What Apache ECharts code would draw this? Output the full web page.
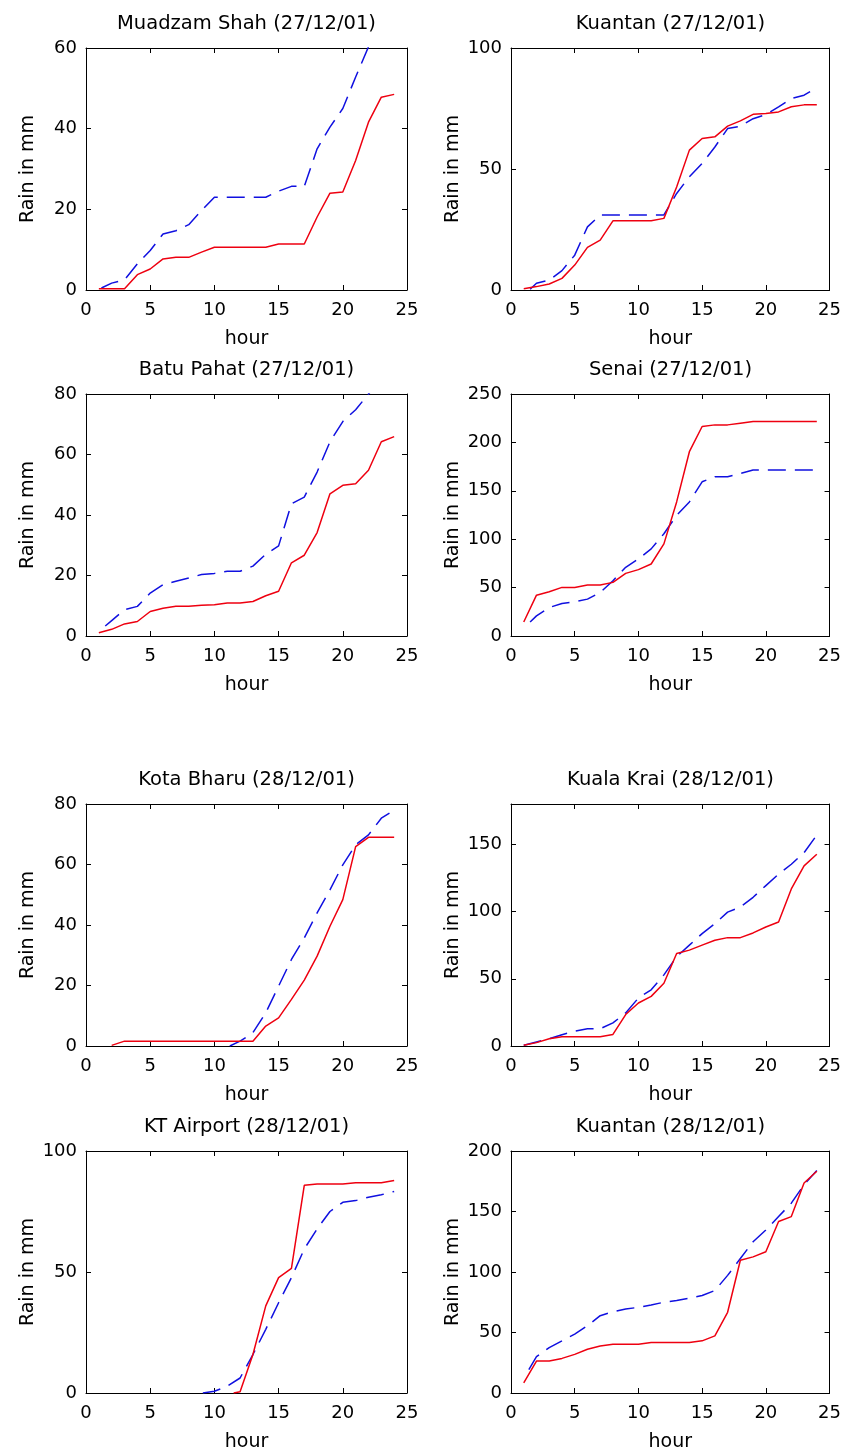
<!DOCTYPE html>
<html><head><meta charset="utf-8">
<script src="https://cdn.jsdelivr.net/npm/echarts@6/dist/echarts.min.js"></script>
<style>html,body{margin:0;padding:0;background:#fff}#c{width:844px;height:1454px}</style>
</head><body><div id="c"></div>
<script>
const hours = [1,2,3,4,5,6,7,8,9,10,11,12,13,14,15,16,17,18,19,20,21,22,23,24];
const titles = ['Muadzam Shah (27/12/01)','Kuantan (27/12/01)','Batu Pahat (27/12/01)','Senai (27/12/01)',
                'Kota Bharu (28/12/01)','Kuala Krai (28/12/01)','KT Airport (28/12/01)','Kuantan (28/12/01)'];
const yMax = [60,100,80,250,80,180,100,200];
const yInterval = [20,50,20,50,20,50,50,50];
const xMax = 25, xInterval = 5;
const xName = 'hour', yName = 'Rain in mm';
// hour of the first drawn point of each curve
const redStartHour  = [1,1,1,1,2,1,11.5,1];
const blueStartHour = [1.2,1.5,1.5,1.5,11.2,1,9.1,1.4];

// observed (red, solid)
const redMuadzam = [0.3,0.3,0.3,3.8,5.2,7.7,8.1,8.1,9.4,10.6,10.6,10.6,10.6,10.6,11.4,11.4,11.4,18.1,24.0,24.3,32.1,41.6,47.8,48.5];
const redKuantan1 = [0.5,1.4,2.5,4.8,10.3,17.6,20.6,28.6,28.6,28.6,28.6,29.6,42.6,57.8,62.6,63.3,67.7,69.9,72.6,72.9,73.6,75.7,76.5,76.5];
const redBatuPahat = [1.1,2.2,4.0,4.8,8.1,9.2,9.8,9.8,10.2,10.3,10.9,10.9,11.4,13.3,14.8,24.2,26.7,34.2,47.0,49.8,50.3,54.8,64.2,65.9];
const redSenai = [14.5,42.2,45.7,50.2,50.2,52.6,52.6,55.4,64.7,68.6,74.4,95.2,138.5,190.4,216.4,218.1,218.1,219.9,221.6,221.6,221.6,221.6,221.6,221.6];
const redKotaBharu = [null,0.2,1.6,1.6,1.6,1.6,1.6,1.6,1.6,1.6,1.6,1.6,1.6,6.6,9.3,15.4,21.8,29.7,39.6,48.4,65.9,69.0,69.0,69.0];
const redKualaKrai = [0.5,2.5,5.4,6.9,6.9,6.9,6.9,8.6,23.4,32.0,36.9,46.7,68.8,71.3,75.0,78.7,80.6,80.6,84.1,88.5,92.2,116.8,134.0,142.6];
const redKTAirport = [null,null,null,null,null,null,null,null,null,null,0,0.5,15.9,36.0,47.7,51.5,85.8,86.4,86.4,86.4,86.9,86.9,86.9,87.8];
const redKuantan2 = [8.3,26.4,26.4,28.6,31.9,36.1,38.9,40.3,40.3,40.3,41.7,41.7,41.7,41.7,43.1,47.2,66.7,109.7,112.5,116.7,141.7,145.8,173.6,183.3];

// estimated (blue, dashed)
const blueMuadzam = [0.5,1.7,2.5,6.5,9.8,13.9,14.7,16.2,19.7,23.0,23.0,23.0,23.0,23.0,24.5,25.7,25.7,35.0,40.4,45.0,52.8,60.3,66.0,72.0];
const blueKuantan1 = [0.3,2.8,4.1,8.0,14.4,26.1,31.0,31.0,31.0,31.0,31.0,31.0,39.9,46.8,52.3,59.1,66.7,67.7,70.8,72.5,75.7,79.1,80.5,83.6];
const blueBatuPahat = [3.3,5.1,8.7,9.8,14.2,17.0,18.1,19.2,20.3,20.7,21.4,21.4,23.1,27.0,29.8,43.7,45.9,54.2,64.2,70.9,74.8,80.0,85.0,88.0];
const blueSenai = [14.5,20.8,29.4,33.6,35.3,38.1,45.0,57.1,71.0,79.6,90.0,105.6,124.7,138.5,159.3,164.5,164.5,167.9,171.4,171.4,171.4,171.4,171.4,171.4];
const blueKotaBharu = [null,null,null,null,null,null,null,null,null,null,0,1.6,4.4,11.0,19.8,28.6,35.7,44.0,51.6,59.9,66.5,69.8,75.3,78.0];
const blueKualaKrai = [0.5,3.0,5.4,8.4,11.1,12.8,12.8,17.2,24.6,35.7,41.8,52.9,66.4,75.0,83.6,91.0,99.6,103.3,110.6,119.3,127.9,135.2,143.8,156.9];
const blueKTAirport = [null,null,null,null,null,null,null,null,0,0.7,2.8,6.2,15.9,26.3,37.3,47.7,59.5,67.8,75.0,78.8,79.5,80.9,81.9,83.3];
const blueKuantan2 = [19.4,30.0,37.5,43.1,48.6,55.6,63.9,67.2,69.4,70.8,72.8,75.0,76.4,78.3,80.6,84.7,97.2,111.1,125.0,134.7,145.8,156.9,172.2,183.9];

const redSets = [redMuadzam,redKuantan1,redBatuPahat,redSenai,redKotaBharu,redKualaKrai,redKTAirport,redKuantan2];
const blueSets = [blueMuadzam,blueKuantan1,blueBatuPahat,blueSenai,blueKotaBharu,blueKualaKrai,blueKTAirport,blueKuantan2];

const FONT = 'DejaVu Sans';
const lefts = [86, 511], widths = [321, 319];
const tops = [48, 394, 804, 1151], H = 242;

function toPairs(vals, startHour) {
  const out = [];
  let first = true;
  vals.forEach((v, i) => {
    if (v == null) return;
    out.push([first ? startHour : hours[i], v]);
    first = false;
  });
  return out;
}

const grid = [], xAxis = [], yAxis = [], series = [], graphic = [];
for (let p = 0; p < 8; p++) {
  const col = p % 2, row = Math.floor(p / 2);
  grid.push({left: lefts[col], top: tops[row], width: widths[col], height: H});
  const tickStyle = {show: true, inside: true, length: 5, lineStyle: {color: '#000', width: 1}};
  const lineStyle = {show: true, onZero: false, lineStyle: {color: '#000', width: 1}};
  xAxis.push({type: 'value', gridIndex: p, position: 'bottom', min: 0, max: xMax, interval: xInterval,
    axisLine: lineStyle, axisTick: tickStyle, splitLine: {show: false},
    axisLabel: {color: '#000', fontFamily: FONT, fontSize: 18, margin: 11},
    name: xName, nameLocation: 'middle', nameGap: 40,
    nameTextStyle: {color: '#000', fontFamily: FONT, fontSize: 19}});
  xAxis.push({type: 'value', gridIndex: p, position: 'top', min: 0, max: xMax, interval: xInterval,
    axisLine: lineStyle, axisTick: tickStyle, splitLine: {show: false}, axisLabel: {show: false}});
  yAxis.push({type: 'value', gridIndex: p, position: 'left', min: 0, max: yMax[p], interval: yInterval[p],
    axisLine: lineStyle, axisTick: tickStyle, splitLine: {show: false},
    axisLabel: {color: '#000', fontFamily: FONT, fontSize: 18, margin: 9,
      showMaxLabel: yMax[p] % yInterval[p] === 0},
    name: yName, nameLocation: 'middle', nameGap: 48, nameRotate: 90,
    nameTextStyle: {color: '#000', fontFamily: FONT, fontSize: 19}});
  yAxis.push({type: 'value', gridIndex: p, position: 'right', min: 0, max: yMax[p], interval: yInterval[p],
    axisLine: lineStyle, axisTick: tickStyle, splitLine: {show: false}, axisLabel: {show: false}});
  series.push({type: 'line', xAxisIndex: 2 * p, yAxisIndex: 2 * p, symbol: 'none', clip: true,
    data: toPairs(blueSets[p], blueStartHour[p]),
    lineStyle: {color: '#1010e0', width: 1.5, type: [18, 9]}, z: 2, animation: false});
  series.push({type: 'line', xAxisIndex: 2 * p, yAxisIndex: 2 * p, symbol: 'none', clip: true,
    data: toPairs(redSets[p], redStartHour[p]),
    lineStyle: {color: '#ee0010', width: 1.5}, z: 3, animation: false});
  graphic.push({type: 'text', x: lefts[col] + widths[col] / 2, y: tops[row] - 24,
    style: {text: titles[p], fill: '#000', font: '19.5px "' + FONT + '"', align: 'center', verticalAlign: 'middle'}});
}

const chart = echarts.init(document.getElementById('c'), null, {renderer: 'canvas'});
chart.setOption({animation: false, backgroundColor: '#fff', grid, xAxis, yAxis, series, graphic});
</script>
</body></html>
